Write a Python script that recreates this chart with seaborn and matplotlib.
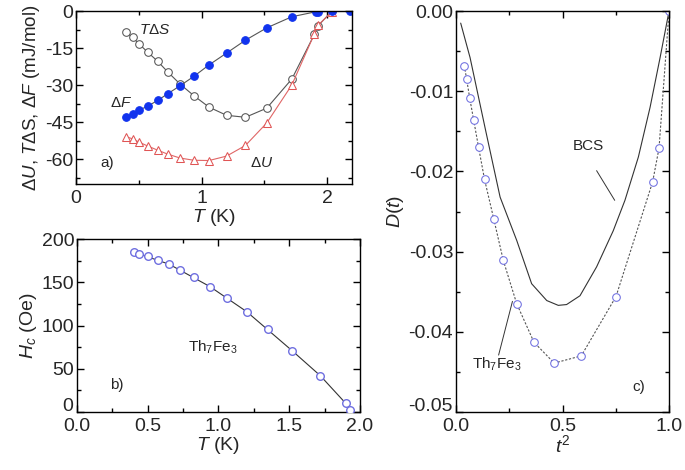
import numpy as np
import pandas as pd
import matplotlib
matplotlib.use("Agg")
import matplotlib.pyplot as plt
from matplotlib.ticker import MultipleLocator, FuncFormatter
import seaborn as sns

# --- panel a : energies vs T ---
T_F = [0.40, 0.45, 0.50, 0.57, 0.65, 0.73, 0.83, 0.94, 1.06, 1.20, 1.35, 1.52, 1.72, 1.91, 1.93, 2.04, 2.18]
dF = [-42.9, -41.8, -40.2, -38.5, -36.2, -33.5, -30.2, -26.4, -21.8, -17.0, -11.8, -6.8, -2.3, -0.3, -0.3, -0.1, 0.0]

T_SU = [0.40, 0.45, 0.50, 0.57, 0.65, 0.73, 0.83, 0.94, 1.06, 1.20, 1.35, 1.52, 1.72, 1.90, 1.93, 2.04]
TdS = [-8.6, -10.6, -13.2, -16.6, -20.3, -24.6, -29.6, -34.3, -38.9, -42.2, -43.0, -39.3, -27.5, -9.4, -5.9, 0.0]
dU = [-50.9, -51.7, -53.0, -54.6, -56.3, -57.9, -59.5, -60.4, -60.5, -58.7, -54.4, -45.3, -29.9, -9.2, -5.7, -0.2]

# --- panel b : critical field ---
T_H = [0.40, 0.44, 0.50, 0.57, 0.65, 0.73, 0.83, 0.94, 1.06, 1.20, 1.35, 1.52, 1.72, 1.90, 1.93]
Hc = [185, 183, 180.5, 176, 171, 164, 156, 145, 132, 116, 96, 71, 42, 10, 2]
T_fit = [0.40, 0.65, 0.94, 1.20, 1.52, 1.72, 1.90, 1.95]
Hc_fit = [185, 171, 145, 116, 71, 42, 10, 0]

# --- panel c : deviation function ---
t2_exp = [0.039, 0.050, 0.064, 0.083, 0.106, 0.134, 0.177, 0.222, 0.285, 0.366, 0.461, 0.588, 0.751, 0.923, 0.953, 1.0]
D_exp = [-0.0068, -0.0085, -0.0108, -0.0136, -0.0170, -0.0210, -0.0259, -0.0311, -0.0365, -0.0413, -0.0439, -0.0430, -0.0356, -0.0213, -0.0171, 0.0]
t2_bcs = [0.022, 0.066, 0.140, 0.207, 0.285, 0.355, 0.426, 0.480, 0.519, 0.582, 0.660, 0.738, 0.793, 0.856, 0.911, 0.958, 1.0]
D_bcs = [-0.0015, -0.0058, -0.0150, -0.0232, -0.0286, -0.0340, -0.0361, -0.0367, -0.0366, -0.0355, -0.0319, -0.0274, -0.0236, -0.0182, -0.0120, -0.0058, 0.0]

sns.set_theme(style="ticks")
plt.rcParams["font.family"] = ["Liberation Sans", "DejaVu Sans"]
plt.rcParams["mathtext.fontset"] = "custom"
plt.rcParams["mathtext.rm"] = "Liberation Sans"
plt.rcParams["mathtext.it"] = "Liberation Sans:italic"
plt.rcParams["axes.unicode_minus"] = False
plt.rcParams["axes.linewidth"] = 1.0
plt.rcParams["axes.edgecolor"] = "black"

fig = plt.figure(figsize=(6.85, 4.70), dpi=100)
ax_a = fig.add_axes([0.111, 0.6085, 0.403, 0.368])
ax_b = fig.add_axes([0.1124, 0.1234, 0.413, 0.368])
ax_c = fig.add_axes([0.6657, 0.1234, 0.311, 0.853])


def style_axis(ax, xmaj, xmin, ymaj, ymin):
    ax.xaxis.set_major_locator(MultipleLocator(xmaj))
    ax.xaxis.set_minor_locator(MultipleLocator(xmin))
    ax.yaxis.set_major_locator(MultipleLocator(ymaj))
    ax.yaxis.set_minor_locator(MultipleLocator(ymin))
    ax.tick_params(which="both", direction="in", top=True, right=True, labelsize=14, color="black")
    ax.tick_params(which="major", length=5, width=1)
    ax.tick_params(which="minor", length=3, width=1)
    ax.tick_params(axis="x", which="major", pad=4)
    ax.tick_params(axis="y", which="major", pad=2)
    for s in ax.spines.values():
        s.set_visible(True)


def lift_bottom_label(ax, fmt):
    # la valeur du bas est redessinee un peu plus haut pour ne pas toucher l'axe x
    ymin = ax.get_ylim()[0]
    ax.yaxis.set_major_formatter(FuncFormatter(
        lambda v, p: "" if abs(v - ymin) < 1e-9 else ("0.00" if fmt == "%.2f" and abs(v) < 1e-9 else fmt % v)))
    ax.annotate(fmt % ymin, xy=(0, 0), xycoords="axes fraction", xytext=(-2.5, 4),
                textcoords="offset points", ha="right", va="center", fontsize=14)


# panel a
sns.lineplot(x=T_SU, y=TdS, ax=ax_a, sort=False, color="#555555", lw=0.8,
             marker="o", markersize=5.5, markerfacecolor="white", markeredgecolor="#555555")
sns.lineplot(x=T_SU, y=dU, ax=ax_a, sort=False, color="#e06666", lw=0.8,
             marker="^", markersize=6, markerfacecolor="white", markeredgecolor="#e05555")
sns.lineplot(x=T_F, y=dF, ax=ax_a, sort=False, color="#555555", lw=0.8,
             marker="o", markersize=5.5, markerfacecolor="#1133ee", markeredgecolor="#1133ee")
ax_a.set_xlim(0, 2.2)
ax_a.set_ylim(-70, 0)
style_axis(ax_a, 1, 0.5, 15, 7.5)
ax_a.set_xlabel(r"$T$ (K)", fontsize=14, labelpad=0)
ax_a.set_ylabel(r"$\Delta U$, $T\Delta$S, $\Delta F$ (mJ/mol)", fontsize=13.5, labelpad=2)
ax_a.text(0.50, -7.5, r"$T\Delta S$", fontsize=11, ha="left", va="center")
ax_a.text(0.36, -37.2, r"$\Delta F$", fontsize=11, ha="center", va="center")
ax_a.text(1.48, -61.5, r"$\Delta U$", fontsize=11, ha="center", va="center")
ax_a.text(0.25, -61.7, "a)", fontsize=11, ha="center", va="center")

# panel b
sns.lineplot(x=T_fit, y=Hc_fit, ax=ax_b, sort=False, color="#333333", lw=0.8)
sns.scatterplot(x=T_H, y=Hc, ax=ax_b, s=30, marker="o", facecolor="white",
                edgecolor="#6f6fe0", linewidth=1.0, zorder=3)
ax_b.set_xlim(0, 2.0)
ax_b.set_ylim(0, 200)
style_axis(ax_b, 0.5, 0.25, 50, 25)
lift_bottom_label(ax_b, "%d")
ax_b.set_xlabel(r"$T$ (K)", fontsize=14, labelpad=0)
ax_b.set_ylabel(r"$H_c$ (Oe)", fontsize=14, labelpad=2)
ax_b.text(0.96, 75, r"Th$_7$Fe$_3$", fontsize=11, ha="center", va="center")
ax_b.text(0.28, 31, "b)", fontsize=11, ha="center", va="center")

# panel c
sns.lineplot(x=t2_bcs, y=D_bcs, ax=ax_c, sort=False, color="#333333", lw=0.8)
sns.lineplot(x=t2_exp, y=D_exp, ax=ax_c, sort=False, color="#555555", lw=0.8, linestyle=(0, (2, 1.5)),
             marker="o", markersize=5.5, markerfacecolor="white", markeredgecolor="#6f6fe0")
ax_c.set_xlim(0, 1.0)
ax_c.set_ylim(-0.05, 0)
style_axis(ax_c, 0.5, 0.25, 0.01, 0.005)
lift_bottom_label(ax_c, "%.2f")
ax_c.set_xlabel(r"$t^2$", fontsize=14, labelpad=0)
ax_c.set_ylabel(r"$D(t)$", fontsize=14, labelpad=2)
ax_c.text(0.62, -0.0168, "BCS", fontsize=11, ha="center", va="center")
ax_c.plot([0.66, 0.745], [-0.0199, -0.0236], color="#333333", lw=0.7)
ax_c.text(0.19, -0.0441, r"Th$_7$Fe$_3$", fontsize=11, ha="center", va="center")
ax_c.plot([0.20, 0.265], [-0.0429, -0.0362], color="#333333", lw=0.7)
ax_c.text(0.86, -0.0469, "c)", fontsize=11, ha="center", va="center")

fig.savefig("out.png", dpi=100)
